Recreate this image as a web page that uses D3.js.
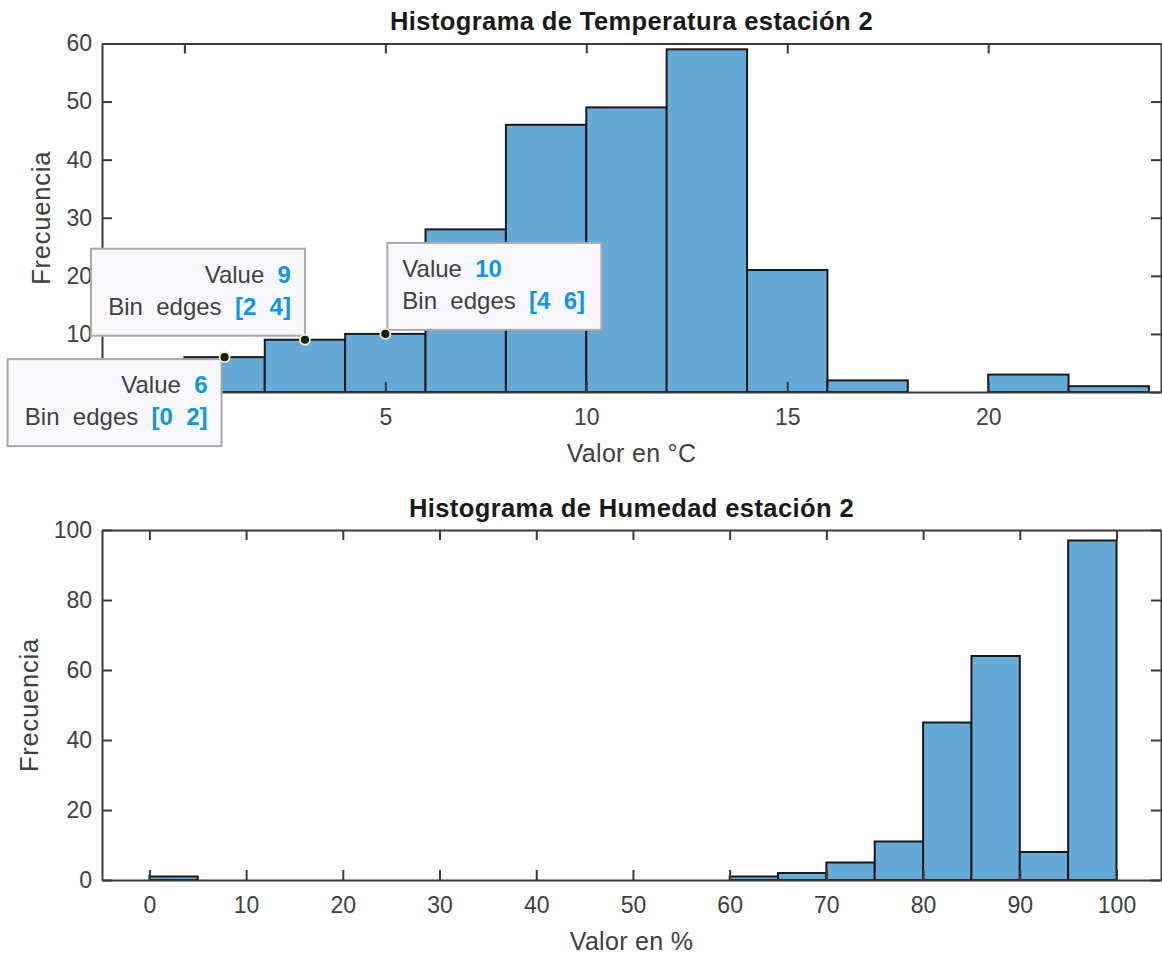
<!DOCTYPE html>
<html><head><meta charset="utf-8">
<script src="https://cdn.jsdelivr.net/npm/d3@7"></script>
<style>
html,body{margin:0;padding:0;background:#fff;}
svg{display:block;font-family:"Liberation Sans",Arial,Helvetica,sans-serif;}
</style></head><body>
<svg id="chart" width="1162" height="956"></svg>
<script>
// ---- data ----
const tempEdges = [0, 2, 4, 6, 8, 10, 12, 14, 16, 18, 20, 22, 24];
const tempCounts = [6, 9, 10, 28, 46, 49, 59, 21, 2, 0, 3, 1];
const tempXTicks = [0, 5, 10, 15, 20];
const tempYTicks = [0, 10, 20, 30, 40, 50, 60];
const tempXLim = [-2.05, 24.3];
const tempYLim = [0, 60];
// tick labels hidden behind the data tip in the original
const tempHiddenX = [0];
const tempHiddenY = [0];

const humEdges = [0, 5, 10, 15, 20, 25, 30, 35, 40, 45, 50, 55, 60, 65, 70, 75, 80, 85, 90, 95, 100];
const humCounts = [1, 0, 0, 0, 0, 0, 0, 0, 0, 0, 0, 0, 1, 2, 5, 11, 45, 64, 8, 97];
const humXTicks = [0, 10, 20, 30, 40, 50, 60, 70, 80, 90, 100];
const humYTicks = [0, 20, 40, 60, 80, 100];
const humXLim = [-4.9, 104.6];
const humYLim = [0, 100];

const tipBins = [0, 1, 2];
const tipPlacement = ["below-left", "above-left", "above-right"];

const titles = ["Histograma de Temperatura estación 2", "Histograma de Humedad estación 2"];
const xLabels = ["Valor en °C", "Valor en %"];
const yLabel = "Frecuencia";

// ---- drawing ----
const svg = d3.select("#chart");
const AX = "#3a3a3a", TXT = "#404040", FILL = "#66aad8", EDGE = "#1a1a1a", BLUE = "#0b96f7";

function drawHist(box, edges, counts, xLim, yLim, xTicks, yTicks, hidX, hidY, title, xLabel, yLabX) {
  const g = svg.append("g");
  const x = d3.scaleLinear().domain(xLim).range([box.left, box.right]);
  const y = d3.scaleLinear().domain(yLim).range([box.bottom, box.top]);
  const bins = counts.map((c, i) => ({x0: edges[i], x1: edges[i + 1], c})).filter(d => d.c > 0);
  g.selectAll("rect.bar").data(bins).join("rect").attr("class", "bar")
    .attr("x", d => x(d.x0)).attr("width", d => x(d.x1) - x(d.x0))
    .attr("y", d => y(d.c)).attr("height", d => y(0) - y(d.c))
    .attr("fill", FILL).attr("stroke", EDGE).attr("stroke-width", 2);

  const style = sel => {
    sel.select(".domain").attr("stroke", AX).attr("stroke-width", 2);
    sel.selectAll(".tick line").attr("stroke", AX).attr("stroke-width", 2);
    sel.selectAll(".tick text").attr("fill", TXT).style("font-size", "23px")
      .style("font-family", '"Liberation Sans",Arial,sans-serif');
  };
  const fx = v => hidX.includes(v) ? "" : String(v);
  const fy = v => hidY.includes(v) ? "" : String(v);
  g.append("g").attr("transform", `translate(0,${box.bottom})`)
    .call(d3.axisBottom(x).tickValues(xTicks).tickFormat(fx).tickSizeInner(-10).tickSizeOuter(0).tickPadding(17)).call(style);
  g.append("g").attr("transform", `translate(0,${box.top})`)
    .call(d3.axisTop(x).tickValues(xTicks).tickSizeInner(-10).tickSizeOuter(0).tickFormat("")).call(style);
  g.append("g").attr("transform", `translate(${box.left},0)`)
    .call(d3.axisLeft(y).tickValues(yTicks).tickFormat(fy).tickSizeInner(-10).tickSizeOuter(0).tickPadding(10)).call(style);
  g.append("g").attr("transform", `translate(${box.right},0)`)
    .call(d3.axisRight(y).tickValues(yTicks).tickSizeInner(-10).tickSizeOuter(0).tickFormat("")).call(style);

  g.append("text").attr("x", (box.left + box.right) / 2).attr("y", box.top - 13.5)
    .attr("text-anchor", "middle").attr("font-weight", "bold").attr("font-size", 25.5)
    .attr("letter-spacing", 0.4).attr("fill", "#1a1a1a").text(title);
  g.append("text").attr("x", (box.left + box.right) / 2).attr("y", box.bottom + 70)
    .attr("text-anchor", "middle").attr("font-size", 25).attr("letter-spacing", 0.3)
    .attr("fill", TXT).text(xLabel);
  g.append("text").attr("transform", `translate(${yLabX},${(box.top + box.bottom) / 2}) rotate(-90)`)
    .attr("text-anchor", "middle").attr("font-size", 25.5).attr("fill", TXT)
    .attr("letter-spacing", 0.8).text(yLabel);
  return {x, y};
}

const topBox = {left: 102, right: 1161, top: 43.5, bottom: 392};
const botBox = {left: 102, right: 1161, top: 530, bottom: 880};

const s1 = drawHist(topBox, tempEdges, tempCounts, tempXLim, tempYLim, tempXTicks, tempYTicks,
  tempHiddenX, tempHiddenY, titles[0], xLabels[0], 50);
drawHist(botBox, humEdges, humCounts, humXLim, humYLim, humXTicks, humYTicks, [], [], titles[1], xLabels[1], 38);

// ---- data tips ----
const tipLayer = svg.append("g");
const dotLayer = svg.append("g");
tipBins.forEach((b, i) => {
  const e0 = tempEdges[b], e1 = tempEdges[b + 1], v = tempCounts[b];
  const dx = s1.x((e0 + e1) / 2), dy = s1.y(v);
  const place = tipPlacement[i];
  const bw = 214, bh = 87;
  let left, topY;
  if (place === "below-left") { left = dx - 3 - bw; topY = dy + 2; }
  else if (place === "above-left") { left = dx - bw; topY = dy - 4 - bh; }
  else { left = dx + 2; topY = dy - 4 - bh; }
  const g = tipLayer.append("g");
  g.append("rect").attr("x", left).attr("y", topY).attr("width", bw).attr("height", bh)
    .attr("fill", "#f9f9fd").attr("stroke", "#a8a8a8").attr("stroke-width", 2);
  const rightAlign = place !== "above-right";
  const tx = rightAlign ? left + bw - 14 : left + 15;
  const anchor = rightAlign ? "end" : "start";
  const t1 = g.append("text").attr("x", tx).attr("y", topY + 34).attr("text-anchor", anchor)
    .attr("font-size", 24).style("white-space", "pre");
  t1.append("tspan").attr("fill", TXT).text("Value  ");
  t1.append("tspan").attr("fill", BLUE).attr("font-weight", "bold").text(String(v));
  const t2 = g.append("text").attr("x", tx).attr("y", topY + 66).attr("text-anchor", anchor)
    .attr("font-size", 24).style("white-space", "pre");
  t2.append("tspan").attr("fill", TXT).text("Bin  edges  ");
  t2.append("tspan").attr("fill", BLUE).attr("font-weight", "bold").text(`[${e0}  ${e1}]`);
  dotLayer.append("circle").attr("cx", dx).attr("cy", dy).attr("r", 5)
    .attr("fill", "#1a1a1a").attr("stroke", "#f2f2c0").attr("stroke-width", 1.8);
});
</script>
</body></html>
